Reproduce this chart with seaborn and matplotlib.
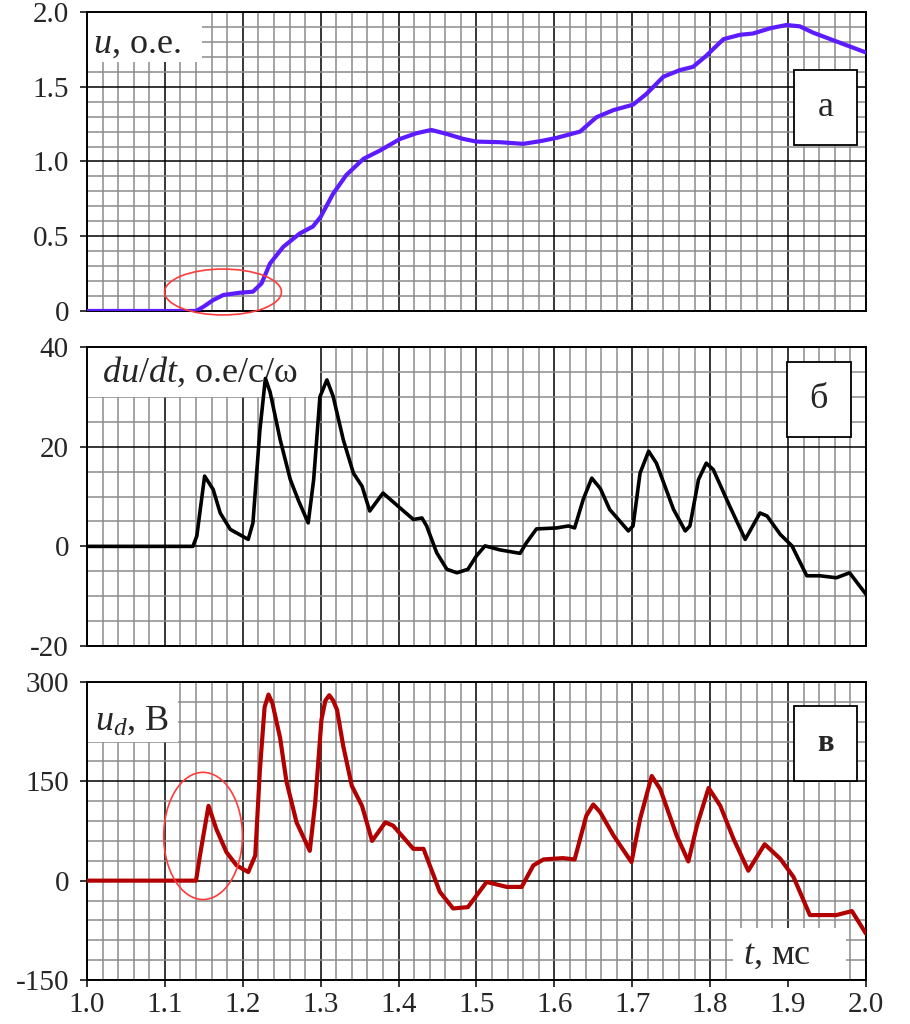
import matplotlib
matplotlib.use("Agg")
import matplotlib.pyplot as plt
from matplotlib.patches import Ellipse, Rectangle
from matplotlib.ticker import MultipleLocator
import seaborn as sns
import pandas as pd

# panel a: u, p.u.
t_a = [1.00, 1.14, 1.15, 1.162, 1.175, 1.196, 1.213, 1.224, 1.235, 1.252, 1.273, 1.29, 1.30,
       1.316, 1.333, 1.355, 1.376, 1.402, 1.423, 1.442, 1.462, 1.483, 1.50, 1.53, 1.56, 1.582,
       1.603, 1.633, 1.654, 1.676, 1.701, 1.718, 1.74, 1.761, 1.778, 1.795, 1.817, 1.838, 1.855,
       1.877, 1.898, 1.915, 1.932, 1.958, 2.0]
u_a = [0, 0, 0.03, 0.073, 0.107, 0.122, 0.129, 0.184, 0.318, 0.429, 0.518, 0.565, 0.63,
       0.785, 0.91, 1.018, 1.073, 1.151, 1.189, 1.211, 1.184, 1.151, 1.133, 1.129, 1.118, 1.136,
       1.158, 1.2, 1.296, 1.344, 1.38, 1.451, 1.567, 1.611, 1.633, 1.707, 1.818, 1.847, 1.856,
       1.891, 1.913, 1.904, 1.862, 1.811, 1.729]

# panel б: du/dt
t_b = [1.00, 1.136, 1.141, 1.151, 1.162, 1.171, 1.184, 1.207, 1.213, 1.222, 1.229, 1.235,
       1.248, 1.261, 1.272, 1.284, 1.291, 1.299, 1.308, 1.316, 1.329, 1.342, 1.353, 1.363, 1.38,
       1.402, 1.419, 1.43, 1.436, 1.449, 1.462, 1.475, 1.489, 1.50, 1.511, 1.53, 1.556, 1.564,
       1.577, 1.603, 1.618, 1.626, 1.637, 1.648, 1.659, 1.671, 1.695, 1.701, 1.71, 1.721, 1.731,
       1.753, 1.768, 1.774, 1.785, 1.795, 1.804, 1.825, 1.845, 1.864, 1.873, 1.89, 1.905, 1.924,
       1.941, 1.962, 1.979, 2.0]
du_b = [0, 0, 2.1, 14.1, 11.4, 6.7, 3.4, 1.4, 4.7, 23.4, 33.7, 31.0,
        21.4, 13.4, 9.0, 4.7, 13.4, 30, 33.4, 30.1, 21.4, 14.7, 12.1, 7.1, 10.7,
        7.7, 5.4, 5.7, 4.1, -1.3, -4.6, -5.3, -4.6, -1.9, 0.1, -0.7, -1.4, 0.7,
        3.5, 3.7, 4.1, 3.7, 9.4, 13.7, 11.6, 7.4, 3.1, 4.1, 14.7, 19.1, 16.7,
        7.4, 3.1, 4.1, 13.4, 16.7, 15.4, 8.1, 1.4, 6.7, 6.1, 2.4, 0.1, -5.9,
        -5.9, -6.3, -5.3, -9.6]

# panel в: u_d, V
t_c = [1.00, 1.14, 1.145, 1.156, 1.166, 1.179, 1.192, 1.207, 1.216, 1.222, 1.228, 1.233, 1.238,
       1.248, 1.256, 1.269, 1.286, 1.293, 1.301, 1.306, 1.311, 1.316, 1.321, 1.329, 1.34, 1.353,
       1.366, 1.383, 1.393, 1.419, 1.432, 1.453, 1.47, 1.489, 1.513, 1.539, 1.558, 1.573, 1.586,
       1.611, 1.626, 1.641, 1.65, 1.659, 1.676, 1.699, 1.71, 1.725, 1.736, 1.757, 1.772, 1.783,
       1.798, 1.813, 1.83, 1.849, 1.87, 1.89, 1.907, 1.928, 1.962, 1.982, 2.0]
ud_c = [0, 0, 38, 113, 78, 43, 23, 13, 38, 168, 262, 281, 268,
        215, 150, 88, 45, 118, 243, 272, 280, 272, 258, 203, 143, 113,
        60, 88, 83, 48, 48, -17, -42, -40, -2, -9.5, -9.5, 23, 32,
        34, 32, 98, 115, 103, 68, 28, 93, 158, 138, 68, 29, 83,
        140, 113, 63, 15, 55, 33, 5.5, -52, -52, -46, -80]

x_ticks = [1.0, 1.1, 1.2, 1.3, 1.4, 1.5, 1.6, 1.7, 1.8, 1.9, 2.0]
x_labels = ["1.0", "1.1", "1.2", "1.3", "1.4", "1.5", "1.6", "1.7", "1.8", "1.9", "2.0"]
ya_ticks, ya_labels = [0, 0.5, 1.0, 1.5, 2.0], ["0", "0.5", "1.0", "1.5", "2.0"]
yb_ticks, yb_labels = [-20, 0, 20, 40], ["-20", "0", "20", "40"]
yc_ticks, yc_labels = [-150, 0, 150, 300], ["-150", "0", "150", "300"]

sns.set_style("white")
plt.rcParams["font.family"] = ["Liberation Serif", "DejaVu Serif"]
plt.rcParams["mathtext.fontset"] = "custom"
plt.rcParams["mathtext.rm"] = "Liberation Serif"
plt.rcParams["mathtext.it"] = "Liberation Serif:italic"
plt.rcParams["mathtext.bf"] = "Liberation Serif:bold"

fig = plt.figure(figsize=(9.1, 10.24), dpi=100)
left, width = 0.0956, 0.856
ax_a = fig.add_axes([left, 0.6963, width, 0.2920])
ax_b = fig.add_axes([left, 0.3691, width, 0.2920])
ax_c = fig.add_axes([left, 0.0430, width, 0.2910])

panels = [
    (ax_a, t_a, u_a, "#5c1cff", 3.0, (0, 2.0), ya_ticks, ya_labels, 0.1),
    (ax_b, t_b, du_b, "black", 2.6, (-20, 40), yb_ticks, yb_labels, 5),
    (ax_c, t_c, ud_c, "#b20000", 3.0, (-150, 300), yc_ticks, yc_labels, 30),
]

for ax, t, v, col, lw, ylim, yt, yl, yminor in panels:
    df = pd.DataFrame({"t": t, "v": v})
    sns.lineplot(data=df, x="t", y="v", ax=ax, color=col, linewidth=lw, zorder=3,
                 sort=False, estimator=None, solid_joinstyle="round",
                 solid_capstyle="round")
    ax.set_xlim(1.0, 2.0)
    ax.set_ylim(*ylim)
    ax.set_xlabel("")
    ax.set_ylabel("")
    ax.set_yticks(yt, yl)
    ax.xaxis.set_minor_locator(MultipleLocator(0.02))
    ax.yaxis.set_minor_locator(MultipleLocator(yminor))
    ax.set_axisbelow(True)
    ax.grid(which="minor", color="#8c8c8c", linewidth=1.1)
    ax.grid(which="major", color="black", linewidth=1.1)
    ax.tick_params(axis="y", which="major", direction="out", length=5, width=1.1,
                   labelsize=21, pad=8, left=True, color="black")
    ax.tick_params(which="minor", length=0)
    for s in ax.spines.values():
        s.set_color("black")
        s.set_linewidth(1.4)

ax_c.set_xticks(x_ticks, x_labels)
ax_c.tick_params(axis="x", which="major", direction="out", length=5, width=1.1,
                 labelsize=21, pad=4, bottom=True, color="black")
for ax in (ax_a, ax_b):
    ax.set_xticks(x_ticks)
    ax.tick_params(axis="x", which="major", length=0, labelbottom=False)


def white_box(ax, x0, y0, w, h):
    ax.add_patch(Rectangle((x0, y0), w, h, transform=ax.transAxes, facecolor="white",
                           edgecolor="none", zorder=1.5))


def letter_box(ax, x0, y0, w, h, letter, weight="normal", size=26):
    ax.add_patch(Rectangle((x0, y0), w, h, transform=ax.transAxes, facecolor="white",
                           edgecolor="black", linewidth=1.3, zorder=4))
    ax.text(x0 + w / 2, y0 + h / 2, letter, transform=ax.transAxes, ha="center",
            va="center", fontsize=size, fontweight=weight, zorder=5)


# axis titles in white boxes
white_box(ax_a, 0, 0.833, 0.148, 0.167)
ax_a.text(0.008, 0.863, r"$u$, о.е.", transform=ax_a.transAxes, fontsize=26,
          va="baseline", zorder=1.6)
white_box(ax_b, 0, 0.833, 0.299, 0.167)
ax_b.text(0.019, 0.884, r"$du/dt$, о.е/с/ω", transform=ax_b.transAxes, fontsize=26,
          va="baseline", zorder=1.6)
white_box(ax_c, 0, 0.80, 0.117, 0.20)
ax_c.text(0.010, 0.839, r"$u_d$, В", transform=ax_c.transAxes, fontsize=26,
          va="baseline", zorder=1.6)
white_box(ax_c, 0.829, 0.0, 0.146, 0.174)
ax_c.text(0.842, 0.056, r"$t$, мс", transform=ax_c.transAxes, fontsize=26,
          va="baseline", zorder=1.6)

letter_box(ax_a, 0.9076, 0.555, 0.081, 0.251, "а")
letter_box(ax_b, 0.8986, 0.699, 0.082, 0.251, "б")
letter_box(ax_c, 0.9076, 0.668, 0.081, 0.251, "в", weight="bold", size=22)

# red highlight ellipses
ell_a = (1.1746, 0.127, 0.150, 0.307)
ell_c = (1.149, 67.5, 0.101, 192)
ax_a.add_patch(Ellipse(ell_a[:2], ell_a[2], ell_a[3], fill=False, edgecolor="#ff3b3b",
                       linewidth=1.2, zorder=3.5, clip_on=False))
ax_c.add_patch(Ellipse(ell_c[:2], ell_c[2], ell_c[3], fill=False, edgecolor="#ff3b3b",
                       linewidth=1.2, zorder=3.5, clip_on=False))

fig.savefig("out.png", dpi=100, facecolor="white")
